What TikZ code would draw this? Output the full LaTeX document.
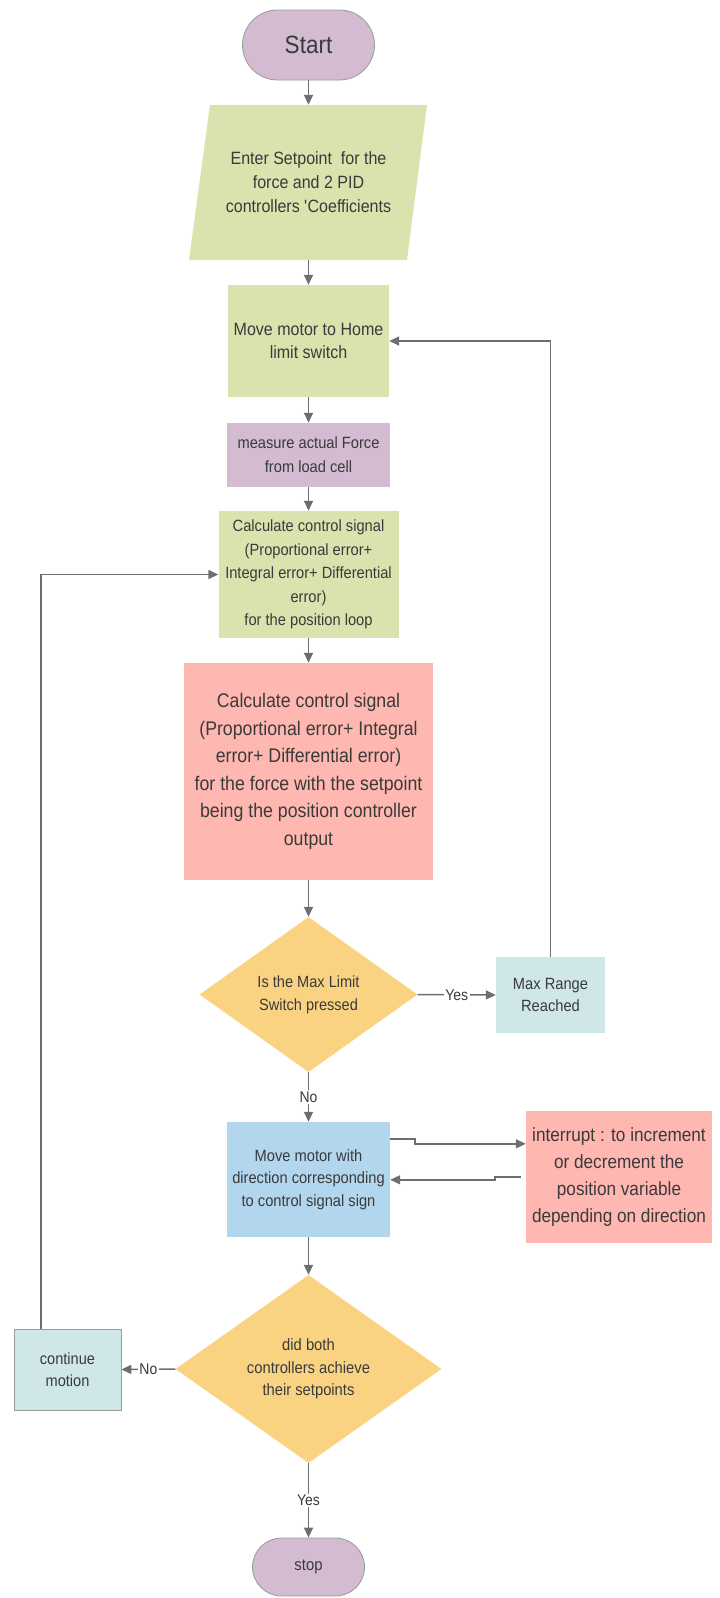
\documentclass[tikz,border=0pt]{standalone}
\usepackage{fontspec}
\setmainfont[FakeStretch=0.9]{Liberation Sans}
\usetikzlibrary{shapes.geometric,shapes.misc,arrows.meta}

\definecolor{lav}{HTML}{D3BCD2}
\definecolor{grn}{HTML}{D9E3AE}
\definecolor{pnk}{HTML}{FFB8B1}
\definecolor{yel}{HTML}{F9D382}
\definecolor{cyn}{HTML}{CFE7E9}
\definecolor{blu}{HTML}{B3D6EF}
\definecolor{txt}{HTML}{3A3A3A}
\definecolor{lin}{HTML}{6E6E6E}
\definecolor{edge}{HTML}{9A9A9A}

\begin{document}
\begin{tikzpicture}[x=1pt,y=-1pt,
  base/.style={inner sep=0pt, align=center, text=txt,
    font=\fontsize{16.3}{23.5}\selectfont},
  boxn/.style={base, rectangle, minimum width=#1},
  term/.style={base, rounded rectangle, fill=lav, draw=edge, line width=0.8pt},
  decn/.style={base, diamond, fill=yel},
  conn/.style={draw=lin, line width=1.5pt, -{Triangle[length=10pt,width=9pt]}},
  lbl/.style={fill=white, inner sep=1.5pt, text=txt,
    font=\fontsize{15.5}{18}\selectfont}]

\useasboundingbox (0,0) rectangle (720,1598);

% terminals, input and processing steps of the main column
\node[term, minimum width=132pt, minimum height=70pt,
  font=\fontsize{25}{30}\selectfont] (start) at (308.5,45) {Start};

\fill[grn] (210,105) -- (427,105) -- (407,260) -- (189,260) -- cycle;
\node[base, minimum width=200pt, minimum height=155pt,
  font=\fontsize{17.8}{24}\selectfont] (inp) at (308.5,182.5)
  {Enter Setpoint\ \ for the\\force and 2 PID\\controllers \textquotesingle Coefficients};

\node[boxn=161pt, minimum height=112pt, fill=grn,
  font=\fontsize{17.8}{23}\selectfont] (home) at (308.5,341)
  {Move motor to Home\\limit switch};

\node[boxn=163pt, minimum height=64pt, fill=lav,
  font=\fontsize{16.3}{24}\selectfont] (meas) at (308.5,455)
  {measure actual Force\\from load cell};

\node[boxn=180pt, minimum height=127pt, fill=grn] (calcp) at (308.5,574.5)
  {Calculate control signal\\(Proportional error+\\Integral error+ Differential\\error)\\for the position loop};

\node[boxn=249pt, minimum height=217pt, fill=pnk,
  font=\fontsize{19.7}{27.5}\selectfont] (calcf) at (308.5,771.5)
  {Calculate control signal\\(Proportional error+ Integral\\error+ Differential error)\\for the force with the setpoint\\being the position controller\\output};

\node[decn, minimum width=218pt, minimum height=155pt,
  font=\fontsize{16.2}{23}\selectfont] (dec1) at (308.5,994.5)
  {Is the Max Limit\\Switch pressed};

\node[boxn=109pt, minimum height=76pt, fill=cyn,
  font=\fontsize{16.3}{22}\selectfont] (maxr) at (550.5,995)
  {Max Range\\Reached};

\node[boxn=163pt, minimum height=115pt, fill=blu,
  font=\fontsize{16.3}{22.5}\selectfont] (blue) at (308.5,1179.5)
  {Move motor with\\direction corresponding\\to control signal sign};

\node[boxn=186pt, minimum height=132pt, fill=pnk,
  font=\fontsize{19.1}{27}\selectfont] (intr) at (619,1177)
  {interrupt : to increment\\or decrement the\\position variable\\depending on direction};

\node[decn, minimum width=266pt, minimum height=188pt,
  font=\fontsize{16.4}{22.5}\selectfont] (dec2) at (308.5,1369)
  {did both\\controllers achieve\\their setpoints};

\node[boxn=107pt, minimum height=81pt, fill=cyn, draw=edge, line width=0.8pt,
  font=\fontsize{16.2}{22}\selectfont] (cont) at (67.5,1369.5)
  {continue\\motion};

\node[term, minimum width=112pt, minimum height=58pt,
  font=\fontsize{16.5}{20}\selectfont] (stop) at (308.5,1567) {stop};

% connectors
\draw[conn] (start.south) -- (inp.north);
\draw[conn] (inp.south) -- (home.north);
\draw[conn] (home.south) -- (meas.north);
\draw[conn] (meas.south) -- (calcp.north);
\draw[conn] (calcp.south) -- (calcf.north);
\draw[conn] (calcf.south) -- (dec1.north);
\draw[conn] (dec1.east) -- node[lbl] {Yes} (maxr.west);
\draw[conn] (maxr.north) |- (home.east);
\draw[conn] (dec1.south) -- node[lbl] {No} (blue.north);
\draw[conn] ([yshift=-17pt]blue.north east) -- ++(25,0) |- ([yshift=-33pt]intr.north west);
\draw[conn, shorten <=5pt] (intr.west) -- ++(-31,0) |- ([yshift=-58pt]blue.north east);
\draw[conn] (blue.south) -- (dec2.north);
\draw[conn] (dec2.west) -- node[lbl] {No} (cont.east);
\draw[conn] ([xshift=-26.5pt]cont.north) |- (calcp.west);
\draw[conn] (dec2.south) -- node[lbl] {Yes} (stop.north);

\end{tikzpicture}
\end{document}
